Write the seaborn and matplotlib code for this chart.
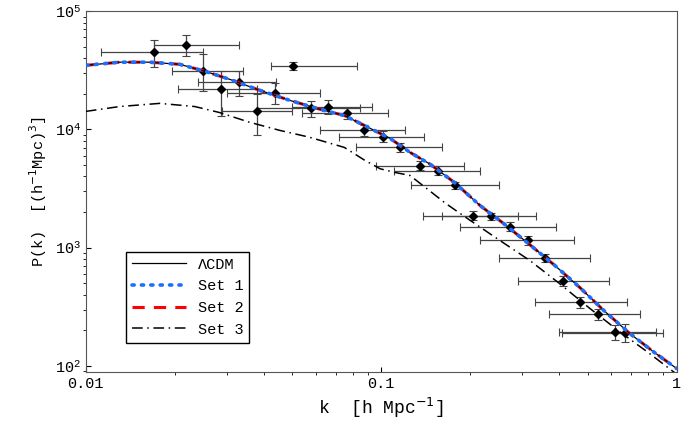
import numpy as np
import pandas as pd
import seaborn as sns
import matplotlib.pyplot as plt

# model curves
k_model = [0.01, 0.013, 0.0164, 0.0208, 0.0253, 0.0307, 0.0388, 0.049, 0.062, 0.075,
           0.0877, 0.107, 0.125, 0.146, 0.177, 0.216, 0.262, 0.318, 0.386, 0.47,
           0.57, 0.69, 0.84, 1.0]
p_lcdm = [34800, 37000, 37000, 35500, 31000, 26500, 21400, 17600, 14800, 13100,
          10800, 8400, 6400, 5100, 3550, 2270, 1570, 1060, 710, 460,
          290, 190, 130, 95]

k_set3 = [0.01, 0.013, 0.0178, 0.0234, 0.0283, 0.0358, 0.0454, 0.057, 0.075, 0.0877,
          0.099, 0.111, 0.125, 0.141, 0.165, 0.2, 0.252, 0.318, 0.40, 0.505,
          0.64, 0.80, 1.0]
p_set3 = [14200, 15600, 16600, 15600, 13900, 11500, 9800, 8600, 7040, 5500,
          4650, 4330, 4080, 3230, 2370, 1700, 1150, 780, 500, 310,
          195, 130, 85]

# data points
k_obs = [0.0170, 0.0218, 0.0249, 0.0286, 0.0330, 0.0379, 0.0436, 0.0501, 0.0576, 0.0662,
         0.0763, 0.0877, 0.101, 0.116, 0.135, 0.155, 0.178, 0.204, 0.236, 0.272,
         0.313, 0.358, 0.412, 0.472, 0.54, 0.62, 0.67]
p_obs = [45000, 51500, 31000, 21800, 25000, 14200, 20200, 34200, 15100, 15600,
         13700, 9800, 8700, 7040, 4940, 4480, 3370, 1870, 1840, 1510,
         1150, 820, 525, 346, 275, 193, 190]
k_lo = [0.0113, 0.0170, 0.0195, 0.0205, 0.0240, 0.0290, 0.0300, 0.0425, 0.0380, 0.0500,
        0.0540, 0.0620, 0.0720, 0.0820, 0.0960, 0.1100, 0.1260, 0.1380, 0.1600, 0.1850,
        0.2150, 0.2500, 0.2900, 0.3300, 0.3700, 0.4000, 0.4100]
k_hi = [0.0250, 0.0330, 0.0340, 0.0380, 0.0440, 0.0500, 0.0620, 0.0830, 0.0850, 0.0930,
        0.1050, 0.1200, 0.1400, 0.1600, 0.1900, 0.2150, 0.2500, 0.2900, 0.3350, 0.3900,
        0.4500, 0.5100, 0.5900, 0.6800, 0.7500, 0.8500, 0.9000]
p_lo = [34000, 42000, 21000, 13000, 19000, 9000, 16500, 31500, 12800, 13500,
        12300, 8800, 7800, 6500, 4500, 4100, 3150, 1700, 1700, 1390,
        1060, 750, 470, 310, 245, 165, 160]
p_hi = [57000, 63000, 43000, 31000, 31000, 20000, 24500, 37000, 17500, 17800,
        15200, 10800, 9600, 7600, 5400, 4900, 3600, 2040, 1980, 1640,
        1250, 890, 580, 385, 305, 220, 225]

k_obs = np.array(k_obs); p_obs = np.array(p_obs)
xerr = [k_obs - np.array(k_lo), np.array(k_hi) - k_obs]
yerr = [p_obs - np.array(p_lo), np.array(p_hi) - p_obs]

df_m = pd.DataFrame({"k": k_model, "P": p_lcdm})
df_3 = pd.DataFrame({"k": k_set3, "P": p_set3})

plt.rcParams["font.family"] = "Liberation Mono"
fig = plt.figure(figsize=(6.92, 4.28), dpi=100)
ax = fig.add_axes([0.124, 0.131, 0.854, 0.843])

ax.errorbar(k_obs, p_obs, xerr=xerr, yerr=yerr, fmt="D", color="black", ms=4.5,
            ecolor="#444444", elinewidth=0.9, capsize=3, capthick=0.8, zorder=2)
sns.lineplot(data=df_m, x="k", y="P", ax=ax, color="red", lw=2.2,
             dashes=(4, 3), label="Set 2", zorder=3)
sns.lineplot(data=df_m, x="k", y="P", ax=ax, color="black", lw=0.9,
             label="\u039bCDM", zorder=4)
sns.lineplot(data=df_m, x="k", y="P", ax=ax, color="#1a6fff", lw=2.6,
             linestyle=(0, (0.6, 2.0)), dash_capstyle="round", label="Set 1", zorder=5)
sns.lineplot(data=df_3, x="k", y="P", ax=ax, color="black", lw=1.1,
             linestyle=(0, (7, 3, 1, 3)), label="Set 3", zorder=4)

ax.set_xscale("log"); ax.set_yscale("log")
ax.set_xlim(0.01, 1.0)
ax.set_ylim(89, 1e5)
ax.set_xticks([0.01, 0.1, 1])
ax.set_xticklabels(["0.01", "0.1", "1"])
ax.tick_params(labelsize=11, direction="in")
ax.set_xlabel("k  [h Mpc$^{-1}$]", fontsize=13)
ax.set_ylabel("P(k)  [(h$^{-1}$Mpc)$^3$]", fontsize=11)
for s in ax.spines.values():
    s.set_color("#555555")

h, l = ax.get_legend_handles_labels()
order = [l.index(n) for n in ["\u039bCDM", "Set 1", "Set 2", "Set 3"]]
ax.legend([h[i] for i in order], [l[i] for i in order], loc="lower left",
          bbox_to_anchor=(0.055, 0.06), fancybox=False, edgecolor="black",
          framealpha=1, fontsize=11, handlelength=3.5)

fig.savefig("out.png", dpi=100)
